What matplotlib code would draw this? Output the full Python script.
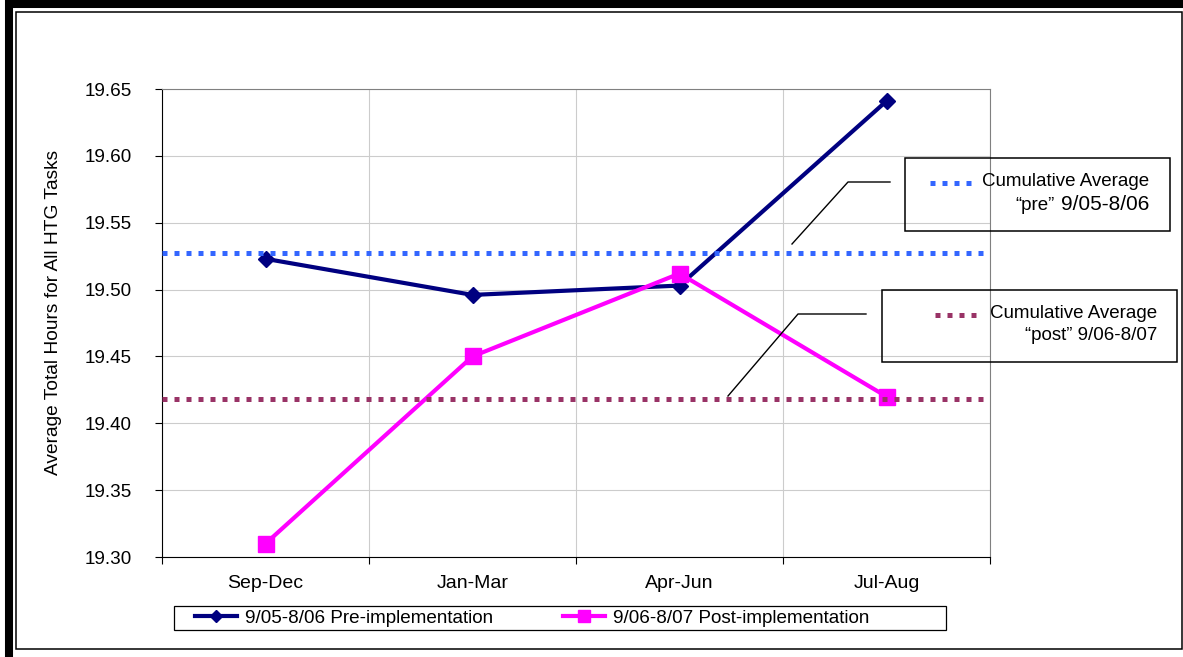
import matplotlib
matplotlib.use("Agg")
import matplotlib.pyplot as plt
from matplotlib.patches import Rectangle
from matplotlib.lines import Line2D
from matplotlib.ticker import FixedLocator, NullFormatter

plt.rcParams['font.family'] = ['Liberation Sans', 'DejaVu Sans']

# data
periods = ['Sep-Dec', 'Jan-Mar', 'Apr-Jun', 'Jul-Aug']
pre = [19.523, 19.496, 19.503, 19.641]
post = [19.310, 19.450, 19.512, 19.420]
avg_pre = 19.527
avg_post = 19.418
pre_label = '9/05-8/06 Pre-implementation'
post_label = '9/06-8/07 Post-implementation'

W, H = 1183, 657
fig = plt.figure(figsize=(W / 100, H / 100), dpi=100)


def px(x, y):
    return x / W, 1 - y / H


# axes in pixel layout
l, t = px(162, 89)
r, b = px(990, 557)
ax = fig.add_axes([l, b, r - l, t - b])

xs = [i + 0.5 for i in range(len(periods))]
ax.plot(xs, pre, color='#000080', lw=3, marker='D', ms=8, label=pre_label, zorder=4)
ax.plot(xs, post, color='#FF00FF', lw=3, marker='s', ms=11, label=post_label, zorder=4)
ax.axhline(avg_pre, color='#3366FF', lw=3.6, linestyle=(0, (1, 1.4)), dash_capstyle='butt', zorder=5)
ax.axhline(avg_post, color='#993366', lw=3.6, linestyle=(0, (1, 1.4)), dash_capstyle='butt', zorder=5)

ax.set_xlim(0, len(periods))
ax.set_ylim(19.30, 19.65)
ax.set_yticks([19.30, 19.35, 19.40, 19.45, 19.50, 19.55, 19.60, 19.65])
ax.set_yticklabels(['%.2f' % v for v in ax.get_yticks()])
ax.xaxis.set_major_locator(FixedLocator(range(len(periods) + 1)))
ax.xaxis.set_major_formatter(NullFormatter())
ax.xaxis.set_minor_locator(FixedLocator(xs))
ax.set_xticklabels(periods, minor=True)
ax.tick_params(axis='x', which='major', length=5, direction='out', color='black')
ax.tick_params(axis='x', which='minor', length=0, pad=13, labelsize=14)
ax.tick_params(axis='y', length=5, direction='out', pad=17, labelsize=13.6)
ax.grid(True, which='major', color='#CCCCCC', lw=0.8)
ax.set_axisbelow(True)
for s in ['top', 'right']:
    ax.spines[s].set_color('#808080')
for s in ['left', 'bottom']:
    ax.spines[s].set_color('black')

fig.text(*px(54, 312), 'Average Total Hours for All HTG Tasks', rotation=90,
         ha='center', va='center', fontsize=13.8)


def box(x0, y0, x1, y1, lw=1.1):
    fx0, fy1 = px(x0, y1)
    fx1, fy0 = px(x1, y0)
    fig.add_artist(Rectangle((fx0, fy1), fx1 - fx0, fy0 - fy1, transform=fig.transFigure,
                             fill=False, edgecolor='black', lw=lw))


def line(pts, **kw):
    xx = [px(x, y)[0] for x, y in pts]
    yy = [px(x, y)[1] for x, y in pts]
    fig.add_artist(Line2D(xx, yy, transform=fig.transFigure, **kw))


# callout for "pre" average
box(905, 158, 1170, 231)
line([(930, 183), (975, 183)], color='#3366FF', lw=3.6, linestyle=(0, (1, 1.4)), dash_capstyle='butt')
fig.text(*px(1149, 182), 'Cumulative Average', ha='right', va='center', fontsize=13.5)
fig.text(*px(1055, 205), '\u201cpre\u201d', ha='right', va='center', fontsize=13.5)
fig.text(*px(1149, 205), '9/05-8/06', ha='right', va='center', fontsize=15)
line([(792, 244), (848, 182), (890, 182)], color='black', lw=1)

# callout for "post" average
box(882, 290, 1177, 362)
line([(935, 315), (977, 315)], color='#993366', lw=3.6, linestyle=(0, (1, 1.4)), dash_capstyle='butt')
fig.text(*px(1157, 313), 'Cumulative Average', ha='right', va='center', fontsize=13.5)
fig.text(*px(1157, 335), '\u201cpost\u201d 9/06-8/07', ha='right', va='center', fontsize=13.5)
line([(728, 396), (798, 314), (866, 314)], color='black', lw=1)

# legend
box(174, 606, 946, 630, lw=0.9)
fig.legend(loc='center left', bbox_to_anchor=px(195, 618), ncol=2, frameon=False,
           fontsize=13.6, handlelength=2.2, handletextpad=0.45, columnspacing=3.7,
           borderpad=0, borderaxespad=0, markerscale=0.8)

# outer double frame
box(9, 4, 1195, 661, lw=5.8)
box(15.8, 11.5, 1181.5, 649, lw=1.1)

fig.savefig('out.png', dpi=100)
